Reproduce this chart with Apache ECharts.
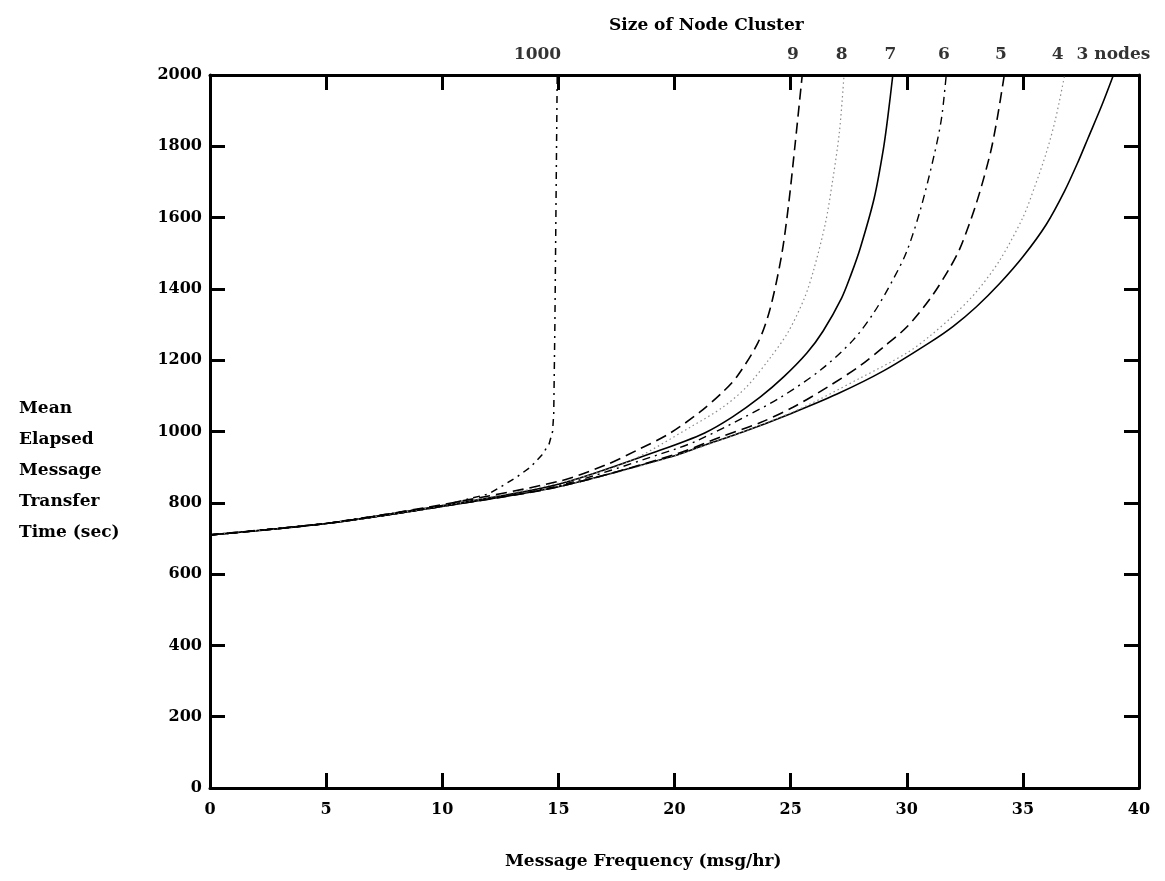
<!DOCTYPE html>
<html>
<head>
<meta charset="utf-8">
<script src="https://cdn.jsdelivr.net/npm/echarts@6/dist/echarts.min.js"></script>
<style>
html,body{margin:0;padding:0;background:#fff;}
#chart{width:1165px;height:881px;}
</style>
</head>
<body>
<div id="chart"></div>
<script>
// ---- data ----
var xTicks = [0, 5, 10, 15, 20, 25, 30, 35, 40];
var yTicks = [0, 200, 400, 600, 800, 1000, 1200, 1400, 1600, 1800, 2000];

var nodes3 = [[0,710],[5,742],[10,790],[15,845],[20,932],[21,955],[23,1000],[25,1050],[27,1105],[29,1170],[31,1250],[32,1295],[33,1350],[34,1415],[35,1490],[36,1580],[36.8,1675],[37.4,1760],[37.8,1822],[38.4,1915],[38.9,2000]];
var nodes4 = [[0,710],[5,742],[10,790],[15,845],[20,932],[25,1052],[28,1150],[30,1220],[31,1268],[32,1325],[33,1392],[34,1480],[35,1600],[35.5,1685],[36,1780],[36.4,1875],[36.8,2000]];
var nodes5 = [[0,710],[5,742],[10,790],[15,845],[20,935],[22,985],[23.7,1025],[25.1,1068],[26.6,1125],[28,1185],[29,1237],[30,1293],[31,1372],[31.8,1453],[32.3,1515],[33,1641],[33.6,1781],[33.9,1880],[34.2,2000]];
var nodes6 = [[0,710],[5,742],[10,790],[15,848],[20,950],[21,975],[23,1040],[24.6,1097],[26.3,1173],[27.7,1257],[28.6,1335],[29.4,1425],[30,1505],[30.6,1625],[31.2,1781],[31.5,1880],[31.7,2000]];
var nodes7 = [[0,710],[5,742],[10,792],[15,852],[19.4,948],[21.3,996],[22.5,1041],[23.7,1097],[24.7,1153],[25.7,1220],[26.4,1282],[27.2,1375],[27.6,1440],[28,1515],[28.6,1655],[29,1795],[29.2,1890],[29.4,2000]];
var nodes8 = [[0,710],[5,742],[10,792],[15,855],[18,915],[20.7,1013],[22.1,1069],[23.1,1125],[24.1,1205],[24.9,1280],[25.6,1375],[26,1455],[26.5,1585],[26.8,1700],[27.1,1840],[27.3,2000]];
var nodes9 = [[0,710],[5,742],[10,795],[15,860],[17,905],[18.4,948],[19.8,995],[21.1,1055],[22.1,1112],[22.7,1155],[23.6,1250],[24.1,1340],[24.6,1490],[24.9,1630],[25.2,1810],[25.5,2000]];
var nodes1000 = [[0,710],[5,742],[10,792],[12,825],[12.5,844],[13.2,872],[13.8,900],[14.3,935],[14.6,965],[14.75,1000],[14.8,1050],[14.85,1300],[14.9,1650],[14.95,2000]];

var topLabels = ['1000', '9', '8', '7', '6', '5', '4', '3 nodes'];
var topLabelX = [14.1, 25.1, 27.2, 29.3, 31.6, 34.05, 36.5, 38.9];

// ---- chart ----
var FONT = '"DejaVu Serif", "Liberation Serif", serif';
var chart = echarts.init(document.getElementById('chart'), null, {renderer: 'canvas'});

function lineSeries(name, data, color, width, type, smooth) {
  return {
    name: name, type: 'line', data: data, showSymbol: false, symbol: 'none',
    smooth: smooth,
    lineStyle: {color: color, width: width, type: type},
    silent: true, animation: false, z: 3
  };
}

var labelData = topLabelX.map(function (x, i) { return {value: [x, 2000], name: topLabels[i]}; });

var axisLine = {show: true, onZero: false, lineStyle: {color: '#000', width: 3}};
var axisTick = {show: true, inside: true, length: 15, lineStyle: {color: '#000', width: 3}};

var option = {
  backgroundColor: '#fff',
  animation: false,
  title: [
    {text: 'Size of Node Cluster', left: 604, top: 12,
     textStyle: {fontFamily: FONT, fontWeight: 'bold', fontSize: 17, color: '#000'}},
    {text: 'Mean\nElapsed\nMessage\nTransfer\nTime (sec)', left: 14, top: 388,
     textStyle: {fontFamily: FONT, fontWeight: 'bold', fontSize: 17, lineHeight: 31, color: '#000'}},
    {text: 'Message Frequency (msg/hr)', left: 500, top: 848,
     textStyle: {fontFamily: FONT, fontWeight: 'bold', fontSize: 17, color: '#000'}}
  ],
  grid: {left: 210, right: 26, top: 75, bottom: 93, containLabel: false},
  xAxis: [
    {type: 'value', position: 'bottom', min: 0, max: 40, interval: 5,
     axisLine: axisLine, axisTick: axisTick, splitLine: {show: false},
     axisLabel: {show: true, margin: 14, fontFamily: FONT, fontWeight: 'bold', fontSize: 16, color: '#000',
                 formatter: function (v) { return xTicks.indexOf(v) >= 0 ? String(v) : ''; }}},
    {type: 'value', position: 'top', min: 0, max: 40, interval: 5,
     axisLine: axisLine, axisTick: axisTick, splitLine: {show: false}, axisLabel: {show: false}}
  ],
  yAxis: [
    {type: 'value', position: 'left', min: 0, max: 2000, interval: 200,
     axisLine: axisLine, axisTick: axisTick, splitLine: {show: false},
     axisLabel: {show: true, margin: 8, fontFamily: FONT, fontWeight: 'bold', fontSize: 16, color: '#000',
                 formatter: function (v) { return yTicks.indexOf(v) >= 0 ? String(v) : ''; }}},
    {type: 'value', position: 'right', min: 0, max: 2000, interval: 200,
     axisLine: axisLine, axisTick: axisTick, splitLine: {show: false}, axisLabel: {show: false}}
  ],
  series: [
    lineSeries('3 nodes', nodes3, '#000', 1.6, 'solid', 0.3),
    lineSeries('4 nodes', nodes4, '#8a8a8a', 1.2, [1.5, 3], 0.3),
    lineSeries('5 nodes', nodes5, '#000', 1.6, [11, 6], 0.3),
    lineSeries('6 nodes', nodes6, '#000', 1.4, [8, 5, 2, 5], 0.3),
    lineSeries('7 nodes', nodes7, '#000', 1.6, 'solid', 0.3),
    lineSeries('8 nodes', nodes8, '#8a8a8a', 1.2, [1.5, 3], 0.3),
    lineSeries('9 nodes', nodes9, '#000', 1.6, [11, 6], 0.3),
    lineSeries('1000 nodes', nodes1000, '#000', 1.5, [7, 5, 2, 5], false),
    {
      name: 'labels', type: 'scatter', data: labelData, symbolSize: 0, silent: true,
      clip: false, animation: false,
      label: {show: true, position: 'top', distance: 12,
              formatter: function (p) { return p.name; },
              fontFamily: FONT, fontWeight: 'bold', fontSize: 17, color: '#000'}
    }
  ]
};
chart.setOption(option);
</script>
</body>
</html>
